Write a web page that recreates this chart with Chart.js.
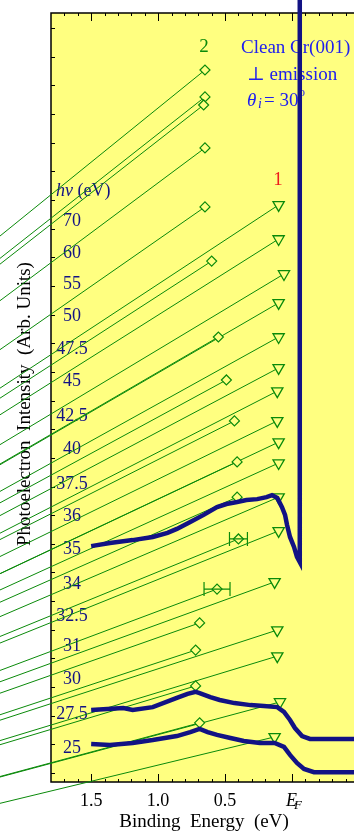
<!DOCTYPE html>
<html>
<head>
  <meta charset="UTF-8">
  <title>Clean Cr(001) normal emission</title>
  <script src="https://cdn.jsdelivr.net/npm/chart.js"></script>
  <style>
    html, body { margin: 0; padding: 0; background: #fff; }
    canvas { display: block; }
  </style>
</head>
<body>
<canvas id="spectraChart" width="354" height="832"></canvas>
<script>
  // photon energies, top to bottom, and the height of each label (arb. units)
  const photonEnergies = ['70', '60', '55', '50', '47.5', '45', '42.5', '40', '37.5', '36', '35', '34', '32.5', '31', '30', '27.5', '25'];
  const labelHeights = [19.30, 18.18, 17.10, 15.99, 14.83, 13.72, 12.50, 11.34, 10.12, 9.01, 7.85, 6.63, 5.51, 4.47, 3.32, 2.09, 0.91];

  // feature 2 (diamonds): binding energy (eV) and offset height
  const peak2Energy = [0.65, 0.65, 0.66, 0.65, 0.65, 0.60, 0.55, 0.49, 0.43, 0.41, 0.41, 0.40, 0.56, 0.69, 0.72, 0.72, 0.69];
  const peak2Height = [24.54, 23.60, 23.32, 21.82, 19.76, 17.87, 15.22, 13.72, 12.29, 10.86, 9.63, 8.17, 6.42, 5.24, 4.29, 3.04, 1.75];

  // feature 1 (triangles)
  const peak1Energy = [0.10, 0.10, 0.06, 0.10, 0.10, 0.10, 0.11, 0.11, 0.10, 0.10, 0.10, 0.10, 0.13, 0.11, 0.11, 0.09, 0.13];
  const peak1Height = [19.83, 18.64, 17.42, 16.41, 15.22, 14.14, 13.33, 12.29, 11.55, 10.82, 9.63, 8.45, 6.67, 4.99, 4.08, 2.48, 1.26];

  // error bars on two of the diamonds
  const errIndex = [11, 12];
  const errHalfWidth = [0.067, 0.097];

  // all leader lines run to this point, off the panel to the lower left
  const fanEnergy = 9.64;
  const fanHeight = -9.49;

  // measured spectra
  const spec35Energy = [1.50, 1.36, 1.19, 1.04, 0.93, 0.86, 0.76, 0.66, 0.56, 0.49, 0.41, 0.34, 0.26, 0.19, 0.15, 0.11, 0.075, 0.052, 0.037, 0.015, -0.015, -0.037, -0.058, -0.058];
  const spec35Count = [7.92, 8.03, 8.13, 8.24, 8.38, 8.52, 8.76, 9.01, 9.28, 9.39, 9.46, 9.53, 9.56, 9.63, 9.70, 9.60, 9.28, 9.01, 8.66, 8.24, 7.89, 7.54, 7.36, 27.5];

  const spec275Energy = [1.50, 1.26, 1.19, 1.04, 0.86, 0.78, 0.72, 0.69, 0.61, 0.54, 0.43, 0.31, 0.21, 0.11, 0.06, 0.015, -0.022, -0.075, -0.134, -0.26, -0.463];
  const spec275Count = [2.20, 2.27, 2.20, 2.30, 2.62, 2.76, 2.83, 2.79, 2.65, 2.55, 2.44, 2.37, 2.34, 2.30, 2.13, 1.85, 1.57, 1.29, 1.19, 1.19, 1.19];

  const spec25Energy = [1.50, 1.36, 1.19, 1.04, 0.86, 0.76, 0.69, 0.63, 0.56, 0.46, 0.36, 0.24, 0.13, 0.06, 0.015, -0.037, -0.09, -0.164, -0.26, -0.463];
  const spec25Count = [1.01, 0.98, 1.05, 1.15, 1.29, 1.43, 1.54, 1.43, 1.33, 1.22, 1.12, 1.05, 1.05, 0.91, 0.63, 0.35, 0.14, 0.03, 0.03, 0.03];

  // axis ticks
  const xTickValues = [1.5, 1.0, 0.5, 0];
  const xTickLabels = ['1.5', '1.0', '0.5', 'EF'];

  const GREEN = '#0a8a0a';
  const NAVY = '#121284';
  const YELLOW = '#ffff80';
  const SERIF = '"Liberation Serif", "DejaVu Serif", serif';

  function pairs(xs, ys) {
    return xs.map((x, i) => ({ x: x, y: ys[i] }));
  }

  const datasets = [];

  // leader lines (under everything)
  [[peak2Energy, peak2Height], [peak1Energy, peak1Height]].forEach(([es, hs]) => {
    es.forEach((e, i) => {
      datasets.push({
        data: [{ x: fanEnergy, y: fanHeight }, { x: e, y: hs[i] }],
        showLine: true,
        borderColor: GREEN,
        borderWidth: 1,
        pointRadius: 0,
        clip: false,
        order: 3
      });
    });
  });

  // markers
  datasets.push({
    data: pairs(peak2Energy, peak2Height),
    pointStyle: 'rectRot',
    pointRadius: 5,
    borderColor: GREEN,
    backgroundColor: YELLOW,
    borderWidth: 1.2,
    order: 2
  });
  datasets.push({
    data: pairs(peak1Energy, peak1Height),
    pointStyle: 'triangle',
    rotation: 180,
    pointRadius: 6.5,
    borderColor: GREEN,
    backgroundColor: YELLOW,
    borderWidth: 1.3,
    order: 2
  });

  // spectra
  [[spec35Energy, spec35Count], [spec275Energy, spec275Count], [spec25Energy, spec25Count]].forEach(([es, cs]) => {
    datasets.push({
      data: pairs(es, cs),
      showLine: true,
      borderColor: NAVY,
      borderWidth: 4.5,
      pointRadius: 0,
      clip: false,
      order: 1
    });
  });

  const framePlugin = {
    id: 'frame',
    beforeDraw(chart) {
      const { ctx, chartArea: a } = chart;
      ctx.save();
      ctx.fillStyle = '#fff';
      ctx.fillRect(0, 0, chart.width, chart.height);
      ctx.fillStyle = YELLOW;
      ctx.fillRect(a.left, a.top, a.right - a.left, a.bottom - a.top);
      ctx.restore();
    },
    beforeDatasetsDraw(chart) {
      const { ctx, chartArea: a, scales: { x, y } } = chart;
      ctx.save();

      // frame: left, top, bottom
      ctx.strokeStyle = '#000';
      ctx.lineWidth = 1.5;
      ctx.beginPath();
      ctx.moveTo(a.right, a.top); ctx.lineTo(a.left, a.top);
      ctx.lineTo(a.left, a.bottom); ctx.lineTo(a.right, a.bottom);
      ctx.stroke();

      // x ticks, inward on top and bottom
      ctx.lineWidth = 1;
      for (let k = -4; k <= 18; k++) {
        const v = k / 10;
        const px = Math.round(x.getPixelForValue(v)) + 0.5;
        if (px <= a.left + 1) continue;
        const len = (k % 5 === 0) ? 8 : 3;
        ctx.beginPath();
        ctx.moveTo(px, a.top); ctx.lineTo(px, a.top + len);
        ctx.moveTo(px, a.bottom); ctx.lineTo(px, a.bottom - len);
        ctx.stroke();
      }
      // y ticks, inward on the left
      for (let v = 0; v <= 26; v++) {
        const py = Math.round(y.getPixelForValue(v)) + 0.5;
        ctx.beginPath();
        ctx.moveTo(a.left, py); ctx.lineTo(a.left + 4, py);
        ctx.stroke();
      }

      // x tick labels
      ctx.fillStyle = '#000';
      ctx.textAlign = 'center';
      ctx.textBaseline = 'alphabetic';
      xTickValues.forEach((v, i) => {
        const px = x.getPixelForValue(v);
        if (xTickLabels[i] === 'EF') {
          ctx.textAlign = 'left';
          ctx.font = 'italic 18px ' + SERIF;
          ctx.fillText('E', px - 6, 806);
          ctx.font = 'italic 13px ' + SERIF;
          ctx.fillText('F', px + 2, 809);
          ctx.textAlign = 'center';
        } else {
          ctx.font = '18px ' + SERIF;
          ctx.fillText(xTickLabels[i], px, 806);
        }
      });
      ctx.font = '19px ' + SERIF;
      ctx.fillText('Binding  Energy  (eV)', 204, 827);

      // y title
      ctx.save();
      ctx.translate(25, 404);
      ctx.rotate(-Math.PI / 2);
      ctx.textBaseline = 'middle';
      ctx.font = '19px ' + SERIF;
      ctx.fillText('Photoelectron  Intensity  (Arb. Units)', 0, 0);
      ctx.restore();

      // photon energy labels
      ctx.fillStyle = NAVY;
      ctx.textBaseline = 'middle';
      ctx.textAlign = 'center';
      ctx.font = '18px ' + SERIF;
      photonEnergies.forEach((lab, i) => {
        ctx.fillText(lab, 72, y.getPixelForValue(labelHeights[i]) + 1);
      });
      ctx.textAlign = 'left';
      const hvY = y.getPixelForValue(20.35) + 1;
      ctx.font = 'italic 18px ' + SERIF;
      ctx.fillText('hv', 56, hvY);
      const hvW = ctx.measureText('hv').width;
      ctx.font = '18px ' + SERIF;
      ctx.fillText(' (eV)', 56 + hvW, hvY);

      // column labels
      ctx.textBaseline = 'alphabetic';
      ctx.textAlign = 'center';
      ctx.font = '19px ' + SERIF;
      ctx.fillStyle = GREEN;
      ctx.fillText('2', 204, 52);
      ctx.fillStyle = '#ee1c1c';
      ctx.fillText('1', 278, 185);

      // sample description
      ctx.textAlign = 'left';
      ctx.fillStyle = '#2020ee';
      ctx.font = '19px ' + SERIF;
      ctx.fillText('Clean Cr(001)', 241, 53);
      ctx.fillText('\u22a5 emission', 247, 80);
      ctx.font = 'italic 19px ' + SERIF;
      ctx.fillText('\u03b8', 247, 106);
      ctx.font = 'italic 14px ' + SERIF;
      ctx.fillText('i', 258, 108);
      ctx.font = '19px ' + SERIF;
      ctx.fillText('= 30', 264, 106);
      ctx.font = '12px ' + SERIF;
      ctx.fillText('o', 299, 96);

      ctx.restore();
    },
    afterDatasetsDraw(chart) {
      const { ctx, scales: { x, y } } = chart;
      ctx.save();
      ctx.strokeStyle = GREEN;
      ctx.lineWidth = 1.2;
      errIndex.forEach((idx, i) => {
        const py = y.getPixelForValue(peak2Height[idx]);
        const lo = x.getPixelForValue(peak2Energy[idx] + errHalfWidth[i]);
        const hi = x.getPixelForValue(peak2Energy[idx] - errHalfWidth[i]);
        ctx.beginPath();
        ctx.moveTo(lo, py); ctx.lineTo(hi, py);
        ctx.moveTo(lo, py - 7); ctx.lineTo(lo, py + 7);
        ctx.moveTo(hi, py - 7); ctx.lineTo(hi, py + 7);
        ctx.stroke();
      });
      ctx.restore();
    }
  };

  new Chart(document.getElementById('spectraChart').getContext('2d'), {
    type: 'scatter',
    data: { datasets: datasets },
    options: {
      responsive: false,
      animation: false,
      devicePixelRatio: 1,
      events: [],
      layout: { autoPadding: false, padding: { left: 51, top: 13, right: 0, bottom: 50 } },
      plugins: { legend: { display: false }, tooltip: { enabled: false } },
      scales: {
        x: { type: 'linear', reverse: true, min: -0.463, max: 1.8, display: false },
        y: { type: 'linear', min: -0.314, max: 26.53, display: false }
      }
    },
    plugins: [framePlugin]
  });
</script>
</body>
</html>
